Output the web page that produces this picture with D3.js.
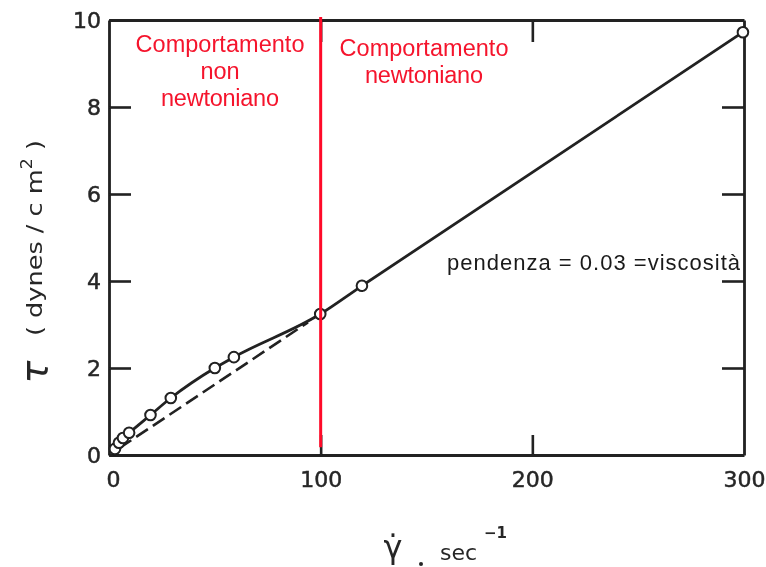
<!DOCTYPE html>
<html>
<head>
<meta charset="utf-8">
<script src="https://cdn.jsdelivr.net/npm/d3@7"></script>
<style>
  html, body { margin: 0; padding: 0; background: #fff; }
  svg { display: block; }
</style>
</head>
<body>
<svg id="chart" width="766" height="567"></svg>
<script>
// Measured shear rate (sec^-1) and shear stress (dynes/cm^2)
const shearRate   = [2.8, 4.7, 6.6, 9.5, 19.6, 29.2, 50.0, 59.0, 99.8, 119.5, 299.5];
const shearStress = [0.14, 0.28, 0.39, 0.51, 0.92, 1.31, 2.00, 2.25, 3.24, 3.89, 9.72];

// Newtonian extension drawn back toward the origin (dashed)
const newtonX = [5, 94];
const newtonY = [0.16, 3.05];

// Boundary between the two regimes
const boundaryX = 100;

const xTicks = [0, 100, 200, 300];
const yTicks = [0, 2, 4, 6, 8, 10];

const svg = d3.select("#chart");
const ink = "#202020";

const x = d3.scaleLinear().domain([0, 300]).range([109, 744]);
const y = d3.scaleLinear().domain([0, 10]).range([455, 20]);

// soft scanned look for the printed figure
const defs = svg.append("defs");
defs.append("filter").attr("id", "soft")
  .append("feGaussianBlur").attr("stdDeviation", 0.45);

const fig = svg.append("g").attr("filter", "url(#soft)");

function styleAxis(g) {
  g.select(".domain").attr("stroke", ink).attr("stroke-width", 2.8);
  g.selectAll(".tick line").attr("stroke", ink).attr("stroke-width", 2.6);
  g.selectAll(".tick text")
    .attr("fill", "#262626")
    .attr("stroke", "#262626").attr("stroke-width", 0.5)
    .style("font-family", "DejaVu Sans, sans-serif")
    .style("font-size", "22px");
}

// frame with inward ticks
fig.append("g").attr("transform", `translate(${x(0)},0)`)
  .call(d3.axisLeft(y).tickValues(yTicks).tickFormat(d3.format("d"))
    .tickSizeInner(-22).tickSizeOuter(0).tickPadding(8))
  .call(styleAxis);

fig.append("g").attr("transform", `translate(${x(300)},0)`)
  .call(d3.axisRight(y).tickValues(yTicks.slice(1, -1)).tickFormat("")
    .tickSizeInner(-22).tickSizeOuter(0))
  .call(styleAxis);

fig.append("g").attr("transform", `translate(0,${y(0)})`)
  .call(d3.axisBottom(x).tickValues(xTicks).tickFormat(d3.format("d"))
    .tickSizeInner(-20).tickSizeOuter(0).tickPadding(16))
  .call(styleAxis)
  .call(g => g.selectAll(".tick line").filter(d => d === 0 || d === 300).remove())
  .call(g => g.selectAll(".tick text").filter(d => d === 0).attr("dx", 4));

fig.append("g").attr("transform", `translate(0,${y(10)})`)
  .call(d3.axisTop(x).tickValues(xTicks.slice(1, -1)).tickFormat("")
    .tickSizeInner(-22).tickSizeOuter(0))
  .call(styleAxis);

// dashed Newtonian line
const pts = newtonX.map((v, i) => [v, newtonY[i]]);
fig.append("path")
  .attr("d", d3.line().x(d => x(d[0])).y(d => y(d[1]))(pts))
  .attr("fill", "none").attr("stroke", ink).attr("stroke-width", 2.6)
  .attr("stroke-dasharray", "14,6");

// measured curve
const data = shearRate.map((v, i) => [v, shearStress[i]]);
fig.append("path")
  .attr("d", d3.line().x(d => x(d[0])).y(d => y(d[1])).curve(d3.curveMonotoneX)(data))
  .attr("fill", "none").attr("stroke", ink).attr("stroke-width", 2.8);

fig.selectAll("circle.pt").data(data).join("circle")
  .attr("class", "pt")
  .attr("cx", d => x(d[0])).attr("cy", d => y(d[1])).attr("r", 5.3)
  .attr("fill", "#fff").attr("stroke", ink).attr("stroke-width", 2);

// axis titles
const yTitle = fig.append("g").attr("fill", "#262626")
  .style("font-family", "DejaVu Sans, sans-serif");
yTitle.append("text")
  .attr("transform", "translate(47,372) rotate(-90)")
  .style("font-size", "38px").style("font-style", "italic")
  .attr("text-anchor", "middle")
  .text("τ");
const yt = yTitle.append("text")
  .attr("transform", "translate(42,336) rotate(-90)")
  .style("font-size", "22px")
  .attr("text-anchor", "start");
yt.append("tspan").text("( dynes / c m");
yt.append("tspan").attr("dy", -10).style("font-size", "15px").text("2");
yt.append("tspan").attr("dy", 10).text(" )");
{
  // stretch the unit label to its printed length
  const len = yt.node().getComputedTextLength();
  const target = 196;
  yt.attr("transform", `translate(42,336) rotate(-90) scale(${target / len},1)`);
}

const xTitle = fig.append("g").attr("fill", "#262626")
  .style("font-family", "DejaVu Sans, sans-serif");
xTitle.append("text").attr("x", 393).attr("y", 558)
  .attr("text-anchor", "middle").style("font-size", "32px").text("γ̇");
xTitle.append("circle").attr("cx", 421).attr("cy", 564).attr("r", 2);
xTitle.append("text").attr("x", 440).attr("y", 560)
  .style("font-size", "22px").text("sec");
xTitle.append("text").attr("x", 484).attr("y", 538)
  .style("font-size", "15px").style("font-weight", "bold").text("−1");

// regime boundary and annotations (crisp)
svg.append("line")
  .attr("x1", x(boundaryX)).attr("x2", x(boundaryX))
  .attr("y1", y(10) - 3).attr("y2", y(0.18))
  .attr("stroke", "#ff0a28").attr("stroke-width", 3);

const red = svg.append("g").attr("fill", "#f5142c")
  .style("font-family", "Liberation Sans, Arial, sans-serif")
  .style("font-size", "23.5px").attr("text-anchor", "middle");
red.append("text").attr("x", 220).attr("y", 52).attr("textLength", 169).text("Comportamento");
red.append("text").attr("x", 220).attr("y", 79).text("non");
red.append("text").attr("x", 220).attr("y", 106).attr("textLength", 118).text("newtoniano");
red.append("text").attr("x", 424).attr("y", 56).attr("textLength", 169).text("Comportamento");
red.append("text").attr("x", 424).attr("y", 83).attr("textLength", 118).text("newtoniano");

svg.append("text")
  .attr("x", 447).attr("y", 270)
  .attr("fill", "#1a1a1a")
  .style("font-family", "Liberation Sans, Arial, sans-serif")
  .style("font-size", "22px")
  .attr("textLength", 293)
  .text("pendenza = 0.03 =viscosità");
</script>
</body>
</html>
